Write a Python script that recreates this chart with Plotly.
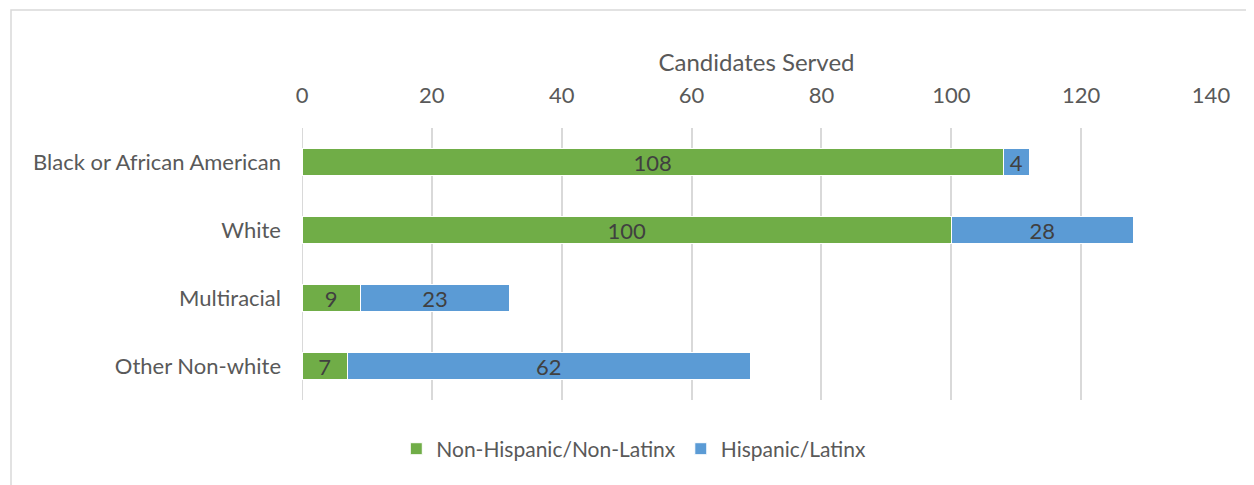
import plotly.graph_objects as go

categories = ["Black or African American", "White", "Multiracial", "Other Non-white"]
non_hispanic = [108, 100, 9, 7]
hispanic = [4, 28, 23, 62]
tick_vals = [0, 20, 40, 60, 80, 100, 120, 140]

FONT = "Lato, 'Open Sans', sans-serif"
TXT = "#595959"

fig = go.Figure()
fig.add_trace(go.Bar(
    y=categories, x=non_hispanic, orientation="h", name="Non-Hispanic/Non-Latinx",
    marker=dict(color="#70AD47", line=dict(color="white", width=1)),
    text=non_hispanic, textposition="inside", insidetextanchor="middle", textangle=0,
    constraintext="none",
    textfont=dict(color="#404040", size=22, family=FONT), cliponaxis=False,
))
fig.add_trace(go.Bar(
    y=categories, x=hispanic, orientation="h", name="Hispanic/Latinx",
    marker=dict(color="#5B9BD5", line=dict(color="white", width=1)),
    text=hispanic, textposition="inside", insidetextanchor="middle", textangle=0,
    constraintext="none",
    textfont=dict(color="#404040", size=22, family=FONT), cliponaxis=False,
))

fig.update_layout(
    width=1246, height=477,
    barmode="stack", bargap=0.6,
    paper_bgcolor="white", plot_bgcolor="white",
    margin=dict(l=294, r=43, t=120, b=85),
    font=dict(family=FONT, size=22, color=TXT),
    xaxis=dict(
        side="top", range=[0, 140], tickvals=tick_vals,
        showgrid=True, gridcolor="#D9D9D9", gridwidth=1.5,
        zeroline=False, showline=False, ticks="",
        ticklabelstandoff=20,
        tickfont=dict(size=22, color=TXT, family=FONT),
        title=dict(text="Candidates Served", font=dict(size=24, color=TXT, family=FONT), standoff=2),
    ),
    yaxis=dict(
        categoryorder="array", categoryarray=categories, autorange="reversed",
        showgrid=False, zeroline=False, showline=False, ticks="",
        ticklabelstandoff=20,
        tickfont=dict(size=22, color=TXT, family=FONT),
    ),
    legend=dict(
        orientation="h", x=0.365, xanchor="center", y=-0.105, yanchor="top",
        font=dict(size=21, color=TXT, family=FONT), itemwidth=30,
        traceorder="normal",
    ),
    shapes=[
        dict(type="rect", xref="paper", yref="paper",
             x0=(11 - 302) / 909, x1=1.2, y0=-0.5, y1=(400 - 10) / 272,
             line=dict(color="#D9D9D9", width=1.5), fillcolor="rgba(0,0,0,0)", layer="below"),
        dict(type="line", xref="x", yref="paper", x0=0, x1=0, y0=0, y1=1,
             line=dict(color="#D9D9D9", width=2), layer="below"),
    ],
)

fig.write_html("out.html")
